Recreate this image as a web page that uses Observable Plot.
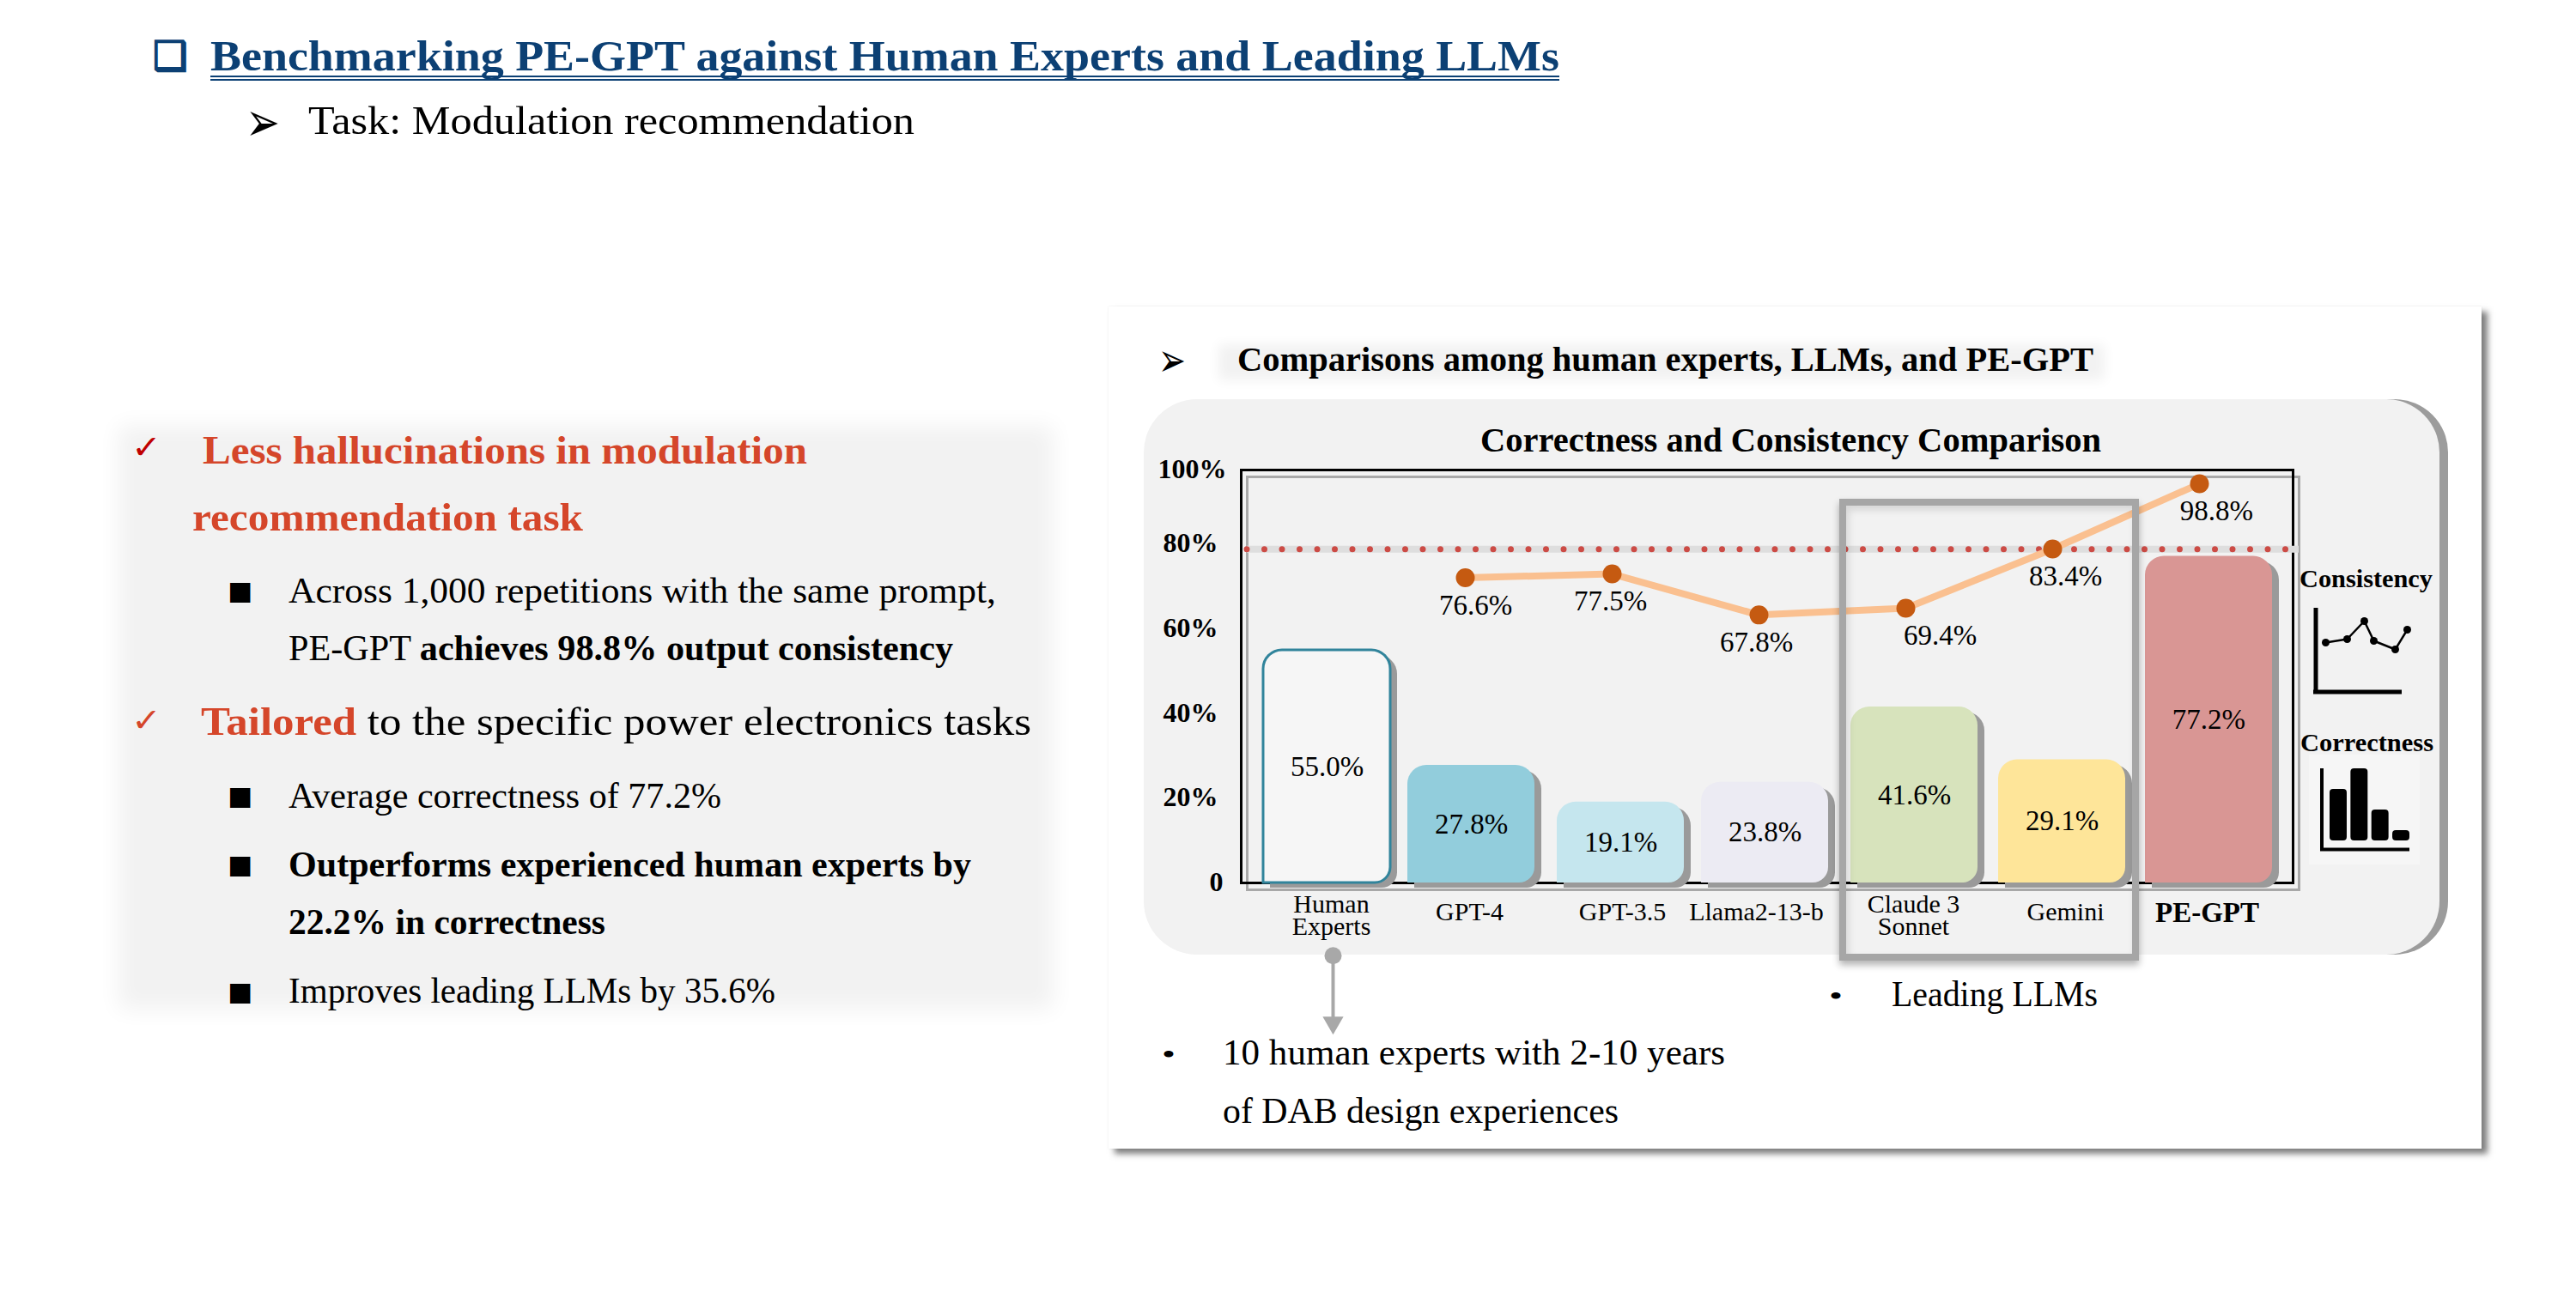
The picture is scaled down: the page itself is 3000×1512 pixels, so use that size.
<!DOCTYPE html>
<html><head><meta charset="utf-8">
<script src="https://cdn.jsdelivr.net/npm/d3@7"></script>
<script src="https://cdn.jsdelivr.net/npm/@observablehq/plot@0.6"></script>
<style>
html,body{margin:0;padding:0;background:#fff;}
#page{position:relative;width:3000px;height:1512px;overflow:hidden;background:#fff;}
.abs{position:absolute;}
.t{position:absolute;white-space:pre;line-height:1;font-family:"Liberation Serif",serif;transform-origin:0 50%;}
.g{font-family:"DejaVu Sans",sans-serif;}
svg{overflow:visible;background:transparent;}
</style></head><body><div id="page">
<div class="abs" style="left:160px;top:518px;width:1045px;height:636px;background:#f2f2f2;box-shadow:0 0 24px 22px #f2f2f2;"></div>
<div class="abs" style="left:1291px;top:357px;width:1599px;height:981px;background:#fff;box-shadow:7px 6px 7px rgba(0,0,0,.5),0 0 2px rgba(0,0,0,.08);"></div>
<div class="abs" style="left:1430px;top:412px;width:1010px;height:20px;background:#f2f2f2;box-shadow:0 0 14px 11px #f2f2f2;"></div>
<div class="abs" style="left:1342px;top:465px;width:1509px;height:647px;border-radius:62px;background:#9c9c9c;"></div>
<div class="abs" style="left:1332px;top:465px;width:1509px;height:647px;border-radius:62px;background:#f2f2f2;"></div>
</div>
<script>
// ---------- data ----------
const categories = ["Human Experts","GPT-4","GPT-3.5","Llama2-13-b","Claude 3 Sonnet","Gemini","PE-GPT"];
const categoryLabels = ["Human\nExperts","GPT-4","GPT-3.5","Llama2-13-b","Claude 3\nSonnet","Gemini","PE-GPT"];
const correctness = [55.0,27.8,19.1,23.8,41.6,29.1,77.2];
const consistencyModels = ["GPT-4","GPT-3.5","Llama2-13-b","Claude 3 Sonnet","Gemini","PE-GPT"];
const consistency = [76.6,77.5,67.8,69.4,83.4,98.8];
const barColors = ["#f6f6f6","#92cddc","#c5e6ee","#ecebf3","#d7e3bc","#fee599","#d99694"];
const yTickValues = [0,20,40,60,80,97.6];
const yTickLabels = ["0","20%","40%","60%","80%","100%"];
const referenceLevel = [78.9];
const iconLineX = [19,44,64,75,100,114];
const iconLineY = [67,71,92,69,59,82];
const iconBars = [60,84,36,12];

// ---------- text helper: x, baseline, right end, html, size ----------
const page = document.getElementById("page");
function T(x, base, end, html, size, opt={}) {
  const s = document.createElement("span");
  s.className = "t" + (opt.glyph ? " g" : "");
  s.innerHTML = html;
  s.style.left = x + "px";
  s.style.fontSize = size + "px";
  s.style.fontWeight = opt.bold ? "700" : "400";
  s.style.color = opt.color || "#000";
  s.style.top = (base - (opt.glyph ? 0.83 : 0.8375) * size) + "px";
  if (opt.stroke) s.style.webkitTextStroke = opt.stroke;
  page.appendChild(s);
  if (end) { const w = s.getBoundingClientRect().width; s.style.transform = `scaleX(${(end - x) / w})`; }
  return s;
}
const navy = "#0c4074", red = "#d5462a";
// header
T(178,80,218,"❑",46,{glyph:true,color:navy,stroke:"2px "+navy});
T(245,82,1816,"Benchmarking PE-GPT against Human Experts and Leading LLMs",50,{bold:true,color:navy});
const ul = document.createElement("div"); ul.className="abs";
ul.style.cssText=`left:245px;top:88px;width:1571px;height:2px;border-top:2px solid ${navy};border-bottom:2px solid ${navy};`;
page.appendChild(ul);
T(286,163,326,"➢",64,{glyph:true});
T(359,156,1065,"Task: Modulation recommendation",47);
// left column
T(153,534,188,"✓",38,{glyph:true,color:"#c00000"});
T(236,540,940,"Less hallucinations in modulation",47,{bold:true,color:red});
T(224,618,679,"recommendation task",47,{bold:true,color:red});
T(265,698,294,"■",30,{glyph:true});
T(336,702,1160,"Across 1,000 repetitions with the same prompt,",42);
T(336,769,1110,"PE-GPT <b>achieves 98.8% output consistency</b>",42);
T(153,852,188,"✓",38,{glyph:true,color:"#d5462a"});
T(234,856,1201,`<b style="color:${red}">Tailored</b> to the specific power electronics tasks`,47);
T(265,937,294,"■",30,{glyph:true});
T(336,941,840,"Average correctness of 77.2%",42);
T(265,1017,294,"■",30,{glyph:true});
T(336,1021,1131,"Outperforms experienced human experts by",42,{bold:true});
T(336,1088,705,"22.2% in correctness",42,{bold:true});
T(265,1165,294,"■",30,{glyph:true});
T(336,1168,903,"Improves leading LLMs by 35.6%",42);
// right panel text
T(1349,438,1381,"➢",54,{glyph:true});
T(1441,432,2438,"Comparisons among human experts, LLMs, and PE-GPT",39,{bold:true});
T(1724,526,2447,"Correctness and Consistency Comparison",40,{bold:true});
T(2678,684,2833,"Consistency",30,{bold:true});
T(2679,875,2834,"Correctness",30,{bold:true});
T(2130,1171,2146,"•",32);
T(2203,1172,2443,"Leading LLMs",42);
T(1353,1239,1369,"•",32);
T(1424,1240,2009,"10 human experts with 2-10 years",42);
T(1424,1308,1885,"of DAB design experiences",42);

// ---------- main chart ----------
const bars = categories.map((c,i)=>({c,v:correctness[i],f:barColors[i]}));
const pts = consistencyModels.map((c,i)=>({c,v:consistency[i]}));
const serif = "Liberation Serif";
const shapeBar = {x:"c",y:"v",rx2y2:18,ry1:22};
// small hand offsets seen in the reference (separate from the data)
const barNudge = [0,-3,0,-3,0,1,1];
const pointLabelNudge = [2,-12,-13,30,5,10];
const categoryNudge = [5,-5,2,-13,-1,5,-1];
const tickPad = [21,27,27,27,27,17];
const chart = Plot.plot({
  width:1540,height:755,marginLeft:125,marginRight:190,marginTop:87,marginBottom:187,
  style:{background:"transparent",fontFamily:serif,overflow:"visible"},
  x:{type:"band",domain:categories,range:[151,1325],paddingInner:0.1345,paddingOuter:0,round:false,axis:null},
  y:{domain:[0,97.6],axis:null},
  marks:[
    Plot.frame({stroke:"#a8a8a8",strokeWidth:3,dx:7,dy:8}),
    Plot.frame({stroke:"#000",strokeWidth:3}),
    ...yTickValues.map((t,i)=>Plot.axisY({ticks:[t],tickSize:0,tickPadding:tickPad[i],fontWeight:"bold",fontSize:32,label:null,
      tickFormat:()=>yTickLabels[i],dy:-1})),
    Plot.ruleY(referenceLevel,{stroke:"#dedede",strokeWidth:8,dx:7}),
    Plot.ruleY(referenceLevel,{stroke:"#cc4b45",strokeWidth:7,strokeLinecap:"round",strokeDasharray:"0 20.5",dx:7}),
    ...bars.map((b,i)=>Plot.barY([b],{...shapeBar,fill:"#9a9a9a",dx:8+barNudge[i],dy:6})),
    ...bars.map((b,i)=>Plot.barY([b],{...shapeBar,fill:"f",stroke:d=>d.c==="Human Experts"?"#31849b":"none",strokeWidth:3,dx:barNudge[i]})),
    ...bars.map((b,i)=>Plot.text([b],{x:"c",y:d=>d.v/2,text:d=>d.v.toFixed(1)+"%",fontSize:33,fill:"#000",dx:barNudge[i]})),
    Plot.line(pts,{x:"c",y:"v",stroke:"#fac090",strokeWidth:8,dx:-10,dy:22}),
    Plot.dot(pts,{x:"c",y:"v",r:11,fill:"#c55a11",dx:-10,dy:22}),
    ...pts.map((p,i)=>Plot.text([p],{x:"c",y:"v",text:d=>d.v.toFixed(1)+"%",fontSize:33,fill:"#000",dx:pointLabelNudge[i],dy:54})),
    ...categories.map((c,i)=>Plot.text([c],c==="PE-GPT"
      ?{x:d=>d,text:d=>d,frameAnchor:"bottom",fontSize:33,fontWeight:"bold",dy:35,dx:categoryNudge[i],fill:"#000",lineAnchor:"middle"}
      :{x:d=>d,text:()=>categoryLabels[i],frameAnchor:"bottom",fontSize:30,lineHeight:0.87,dy:categoryLabels[i].includes("\n")?39:35,dx:categoryNudge[i],fill:"#000",lineAnchor:"middle"})),
    Plot.ruleX(["Human Experts"],{x:d=>d,y1:-17.2,y2:-32,stroke:"#a8a8a8",strokeWidth:4,dx:7}),
    Plot.dot(["Human Experts"],{x:d=>d,y:-17.2,r:10,fill:"#a8a8a8",dx:7}),
    Plot.dot(["Human Experts"],{x:d=>d,y:-33,r:9,symbol:"triangle",rotate:180,fill:"#a8a8a8",dx:7}),
  ]
});
chart.style.cssText+=";position:absolute;left:1320px;top:460px;";
page.appendChild(chart);

// highlight box for Leading LLMs
const box=document.createElement("div");box.className="abs";
box.style.cssText="left:2142px;top:581px;width:333px;height:522px;border:8px solid #a6a6a6;box-shadow:0 5px 8px rgba(0,0,0,.3),inset 3px 5px 8px rgba(0,0,0,.12);";
page.appendChild(box);

// ---------- legend icons ----------
const iconLine = Plot.plot({width:125,height:115,margin:0,
  style:{background:"transparent"},
  x:{domain:[0,125],range:[0,125],axis:null},y:{domain:[0,115],range:[115,0],axis:null},
  marks:[
    Plot.ruleX([7.5],{y1:7,y2:107,stroke:"#000",strokeWidth:5}),
    Plot.ruleY([9.5],{x1:5,x2:108,stroke:"#000",strokeWidth:5}),
    Plot.line(iconLineX.map((x,i)=>[x,iconLineY[i]]),{stroke:"#000",strokeWidth:2.5}),
    Plot.dot(iconLineX.map((x,i)=>[x,iconLineY[i]]),{r:4.5,fill:"#000"}),
  ]});
iconLine.style.cssText+=";position:absolute;left:2689px;top:700px;";
page.appendChild(iconLine);
const iconBar = Plot.plot({width:129,height:128,margin:0,
  style:{background:"#f6f6f6"},
  x:{type:"band",domain:iconBars.map((_,i)=>i),range:[24,117],paddingInner:0.18,paddingOuter:0,round:false,axis:null},
  y:{domain:[-28,100],range:[128,0],axis:null},
  marks:[
    Plot.barY(iconBars.map((v,i)=>[i,v]),{x:"0",y:"1",fill:"#000",r:4}),
    Plot.ruleY([-10],{stroke:"#000",strokeWidth:4,insetLeft:13,insetRight:12}),
  ]});
iconBar.style.cssText+=";position:absolute;left:2689px;top:879px;";
page.appendChild(iconBar);
const stem=document.createElement("div");stem.className="abs";
stem.style.cssText="left:2702px;top:895px;width:4px;height:95px;background:#000;";
page.appendChild(stem);
</script></body></html>
